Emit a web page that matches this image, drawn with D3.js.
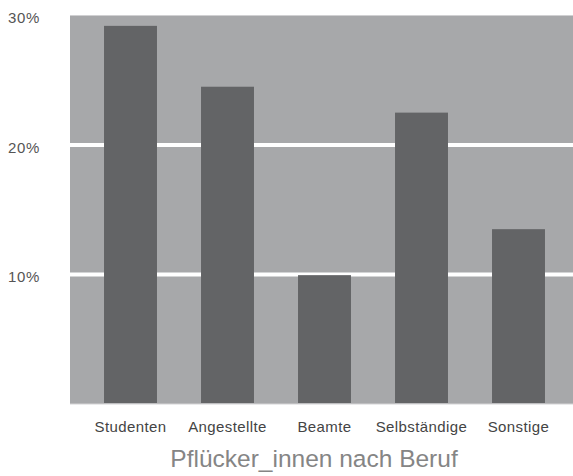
<!DOCTYPE html>
<html lang="de">
    <head>
        <meta charset="utf-8">
        <title>Pflücker_innen nach Beruf</title>
        <script type="text/javascript" src="https://cdn.jsdelivr.net/npm/d3@7"></script>
        <style>
            body { margin: 0; background: #fff; }
        </style>
    </head>
    <body>
        <script type="text/javascript">
            var categories = ["Studenten", "Angestellte", "Beamte", "Selbständige", "Sonstige"];
            var values = [29.2, 24.5, 9.95, 22.5, 13.5];
            var yTicks = [10, 20, 30];
            var title = "Pflücker_innen nach Beruf";

            var w = 573;
            var h = 476;
            var plotLeft = 70, plotRight = 573, plotTop = 15, plotBottom = 404;

            var svg = d3.select("body").append("svg").attr("width", w).attr("height", h);

            var xscale = d3.scaleBand().domain(categories).range([82, 567])
                .paddingInner(0.454).paddingOuter(0.227);
            var yscale = d3.scaleLinear().domain([0, 30]).range([plotBottom, plotTop + 0.5]);

            // plot background
            svg.append("rect")
               .attr("x", plotLeft).attr("y", plotTop)
               .attr("width", plotRight - plotLeft).attr("height", plotBottom - plotTop)
               .attr("fill", "#a7a8aa");
            svg.append("line")
               .attr("x1", plotLeft).attr("x2", plotRight)
               .attr("y1", plotTop + 0.5).attr("y2", plotTop + 0.5)
               .attr("stroke", "#d0d0d2").attr("stroke-width", 1);
            svg.append("line")
               .attr("x1", plotLeft).attr("x2", plotRight)
               .attr("y1", plotBottom).attr("y2", plotBottom)
               .attr("stroke", "#d4d4d6").attr("stroke-width", 1);

            // gridlines
            svg.selectAll("line.grid").data(yTicks.filter(function (d) { return d < 30; })).enter().append("line")
               .attr("class", "grid")
               .attr("x1", plotLeft).attr("x2", plotRight)
               .attr("y1", function (d) { return yscale(d); })
               .attr("y2", function (d) { return yscale(d); })
               .attr("stroke", "#ffffff").attr("stroke-width", 4);

            // bars
            svg.selectAll("rect.bar").data(values).enter().append("rect")
               .attr("class", "bar")
               .attr("x", function (d, i) { return xscale(categories[i]); })
               .attr("y", function (d) { return yscale(d); })
               .attr("width", xscale.bandwidth())
               .attr("height", function (d) { return yscale(0) - yscale(d) - 1; })
               .attr("fill", "#636466");

            // y labels
            svg.selectAll("text.ylab").data(yTicks).enter().append("text")
               .attr("class", "ylab")
               .text(function (d) { return d + "%"; })
               .attr("x", 8)
               .attr("y", function (d) { return yscale(d) + 7.5; })
               .attr("font-family", "Liberation Sans, Arial, sans-serif")
               .attr("font-size", "15px")
               .attr("letter-spacing", "0.6px")
               .attr("fill", "#555");

            // category labels
            svg.selectAll("text.xlab").data(categories).enter().append("text")
               .attr("class", "xlab")
               .text(function (d) { return d; })
               .attr("x", function (d) { return xscale(d) + xscale.bandwidth() / 2; })
               .attr("y", 432)
               .attr("text-anchor", "middle")
               .attr("font-family", "Liberation Sans, Arial, sans-serif")
               .attr("font-size", "15px")
               .attr("letter-spacing", "0.4px")
               .attr("fill", "#444");

            svg.append("text")
               .text(title)
               .attr("x", 314)
               .attr("y", 467)
               .attr("text-anchor", "middle")
               .attr("font-family", "Liberation Sans, Arial, sans-serif")
               .attr("font-size", "24.5px")
               .attr("fill", "#858585");
        </script>
    </body>
</html>
